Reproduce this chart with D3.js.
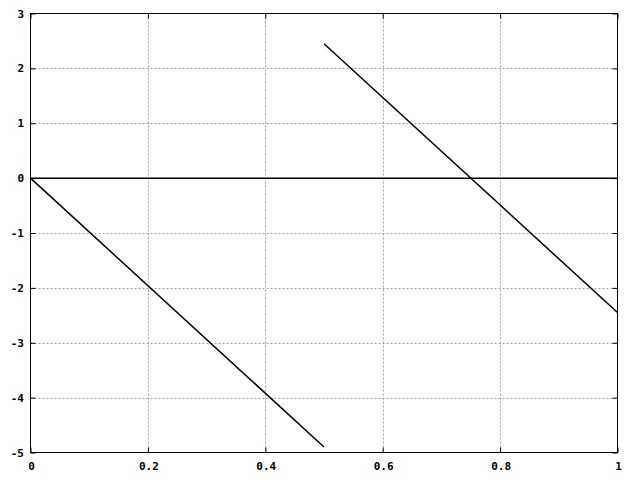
<!DOCTYPE html>
<html>
<head>
<meta charset="utf-8">
<script src="https://cdn.jsdelivr.net/npm/d3@7"></script>
<style>
  body { margin: 0; background: #fff; }
  svg text { font-family: "DejaVu Sans Mono", monospace; font-weight: bold; font-size: 11px; fill: #000; }
</style>
</head>
<body>
<svg id="chart" width="640" height="480"></svg>
<script>
// sawtooth segments
const seg1X = [0, 0.5];
const seg1Y = [0, -4.9];
const seg2X = [0.5, 1];
const seg2Y = [2.45, -2.45];
const zeroX = [0, 1];
const zeroY = [0, 0];

const xTicks = [0, 0.2, 0.4, 0.6, 0.8, 1];
const yTicks = [-5, -4, -3, -2, -1, 0, 1, 2, 3];

const svg = d3.select("#chart");
const x = d3.scaleLinear().domain([0, 1]).range([30.5, 617.5]);
const y = d3.scaleLinear().domain([-5, 3]).range([452.5, 13.5]);

const g = svg.append("g");

// grid
g.selectAll(".gx")
  .data(xTicks.slice(1, -1))
  .enter()
  .append("line")
  .attr("x1", (d) => Math.round(x(d)) + 0.5)
  .attr("x2", (d) => Math.round(x(d)) + 0.5)
  .attr("y1", y(3))
  .attr("y2", y(-5))
  .attr("stroke", "#a0a0a0")
  .attr("stroke-dasharray", "2,2");

g.selectAll(".gy")
  .data(yTicks.slice(1, -1))
  .enter()
  .append("line")
  .attr("x1", x(0))
  .attr("x2", x(1))
  .attr("y1", (d) => Math.round(y(d)) + 0.5)
  .attr("y2", (d) => Math.round(y(d)) + 0.5)
  .attr("stroke", "#a0a0a0")
  .attr("stroke-dasharray", "2,2");

// axes with inward ticks, mirrored
g.append("g")
  .attr("transform", `translate(0,${y(-5)})`)
  .call(d3.axisTop(x).tickValues(xTicks).tickSize(5).tickFormat(""))
  .call((a) => a.select(".domain").remove());
g.append("g")
  .attr("transform", `translate(0,${y(3)})`)
  .call(d3.axisBottom(x).tickValues(xTicks).tickSize(5).tickFormat(""))
  .call((a) => a.select(".domain").remove());
g.append("g")
  .attr("transform", `translate(${x(0)},0)`)
  .call(d3.axisRight(y).tickValues(yTicks).tickSize(5).tickFormat(""))
  .call((a) => a.select(".domain").remove());
g.append("g")
  .attr("transform", `translate(${x(1)},0)`)
  .call(d3.axisLeft(y).tickValues(yTicks).tickSize(5).tickFormat(""))
  .call((a) => a.select(".domain").remove());

g.selectAll(".tick line").attr("stroke", "#000");

// tick labels
g.selectAll(".xl")
  .data(xTicks)
  .enter()
  .append("text")
  .attr("x", (d) => x(d) + 1)
  .attr("y", 470)
  .attr("text-anchor", "middle")
  .text((d) => d);

g.selectAll(".yl")
  .data(yTicks)
  .enter()
  .append("text")
  .attr("x", 24)
  .attr("y", (d) => y(d) + 4)
  .attr("text-anchor", "end")
  .text((d) => d);

// frame
g.append("rect")
  .attr("x", x(0))
  .attr("y", y(3))
  .attr("width", x(1) - x(0))
  .attr("height", y(-5) - y(3))
  .attr("fill", "none")
  .attr("stroke", "#000");

const line = d3.line().x((d) => x(d[0])).y((d) => y(d[1]));

[
  [zeroX, zeroY],
  [seg1X, seg1Y],
  [seg2X, seg2Y],
].forEach(([xs, ys]) => {
  g.append("path")
    .attr("d", line(xs.map((v, i) => [v, ys[i]])))
    .attr("fill", "none")
    .attr("stroke", "#000")
    .attr("stroke-width", 1.5);
});
</script>
</body>
</html>
